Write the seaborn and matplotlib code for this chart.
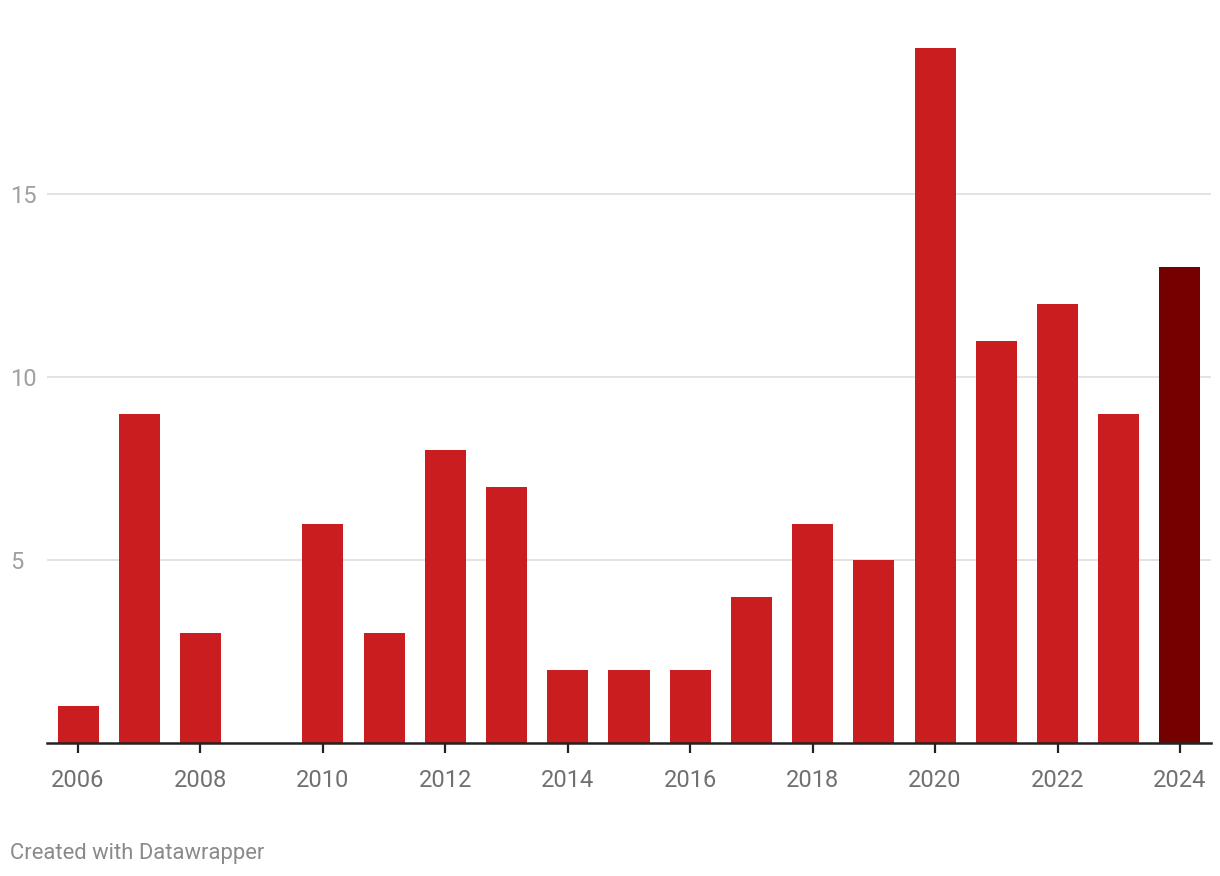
import pandas as pd
import matplotlib.pyplot as plt
import seaborn as sns

years = list(range(2006, 2025))
counts = [1, 9, 3, 0, 6, 3, 8, 7, 2, 2, 2, 4, 6, 5, 19, 11, 12, 9, 13]
highlight_year = 2024
ytick_values = [5, 10, 15]

df = pd.DataFrame({'Year': [str(y) for y in years], 'Count': counts})
df['Group'] = ['last' if y == highlight_year else 'other' for y in years]

sns.set_style('white')
plt.rcParams['font.family'] = ['Roboto', 'DejaVu Sans']

fig = plt.figure(figsize=(12.2, 8.76), dpi=100)
ax = fig.add_axes([47.4 / 1220, 133 / 876, (1210.6 - 47.4) / 1220, (743 - 48) / 876])

sns.barplot(data=df, x='Year', y='Count', hue='Group',
            palette={'other': '#c91d1f', 'last': '#750000'},
            width=0.67, saturation=1, linewidth=0, legend=False, dodge=False,
            ax=ax, zorder=3)

ax.set_xlim(-0.5, len(years) - 0.5)
ax.set_ylim(0, 19)

# gridlines
for v in ytick_values:
    ax.axhline(v, color='#e3e3e3', lw=1.4, zorder=1)
ax.set_yticks(ytick_values)
ax.set_yticklabels([str(v) for v in ytick_values], ha='left', color='#a0a0a0', fontsize=17)
ax.tick_params(axis='y', length=0, pad=27)

tick_idx = list(range(0, len(years), 2))
ax.set_xticks(tick_idx)
ax.set_xticklabels([str(years[i]) for i in tick_idx], color='#707070', fontsize=17)
ax.tick_params(axis='x', length=7, width=1.6, color='#222222', pad=12, bottom=True)

for s in ['top', 'right', 'left']:
    ax.spines[s].set_visible(False)
ax.spines['bottom'].set_color('#222222')
ax.spines['bottom'].set_linewidth(1.8)
ax.spines['bottom'].set_zorder(4)
ax.set_xlabel('')
ax.set_ylabel('')

fig.text(10 / 1220, 1 - 854 / 876, 'Created with Datawrapper', ha='left', va='center',
         color='#8a8a8a', fontsize=15.8)

fig.savefig('out.png', dpi=100)
